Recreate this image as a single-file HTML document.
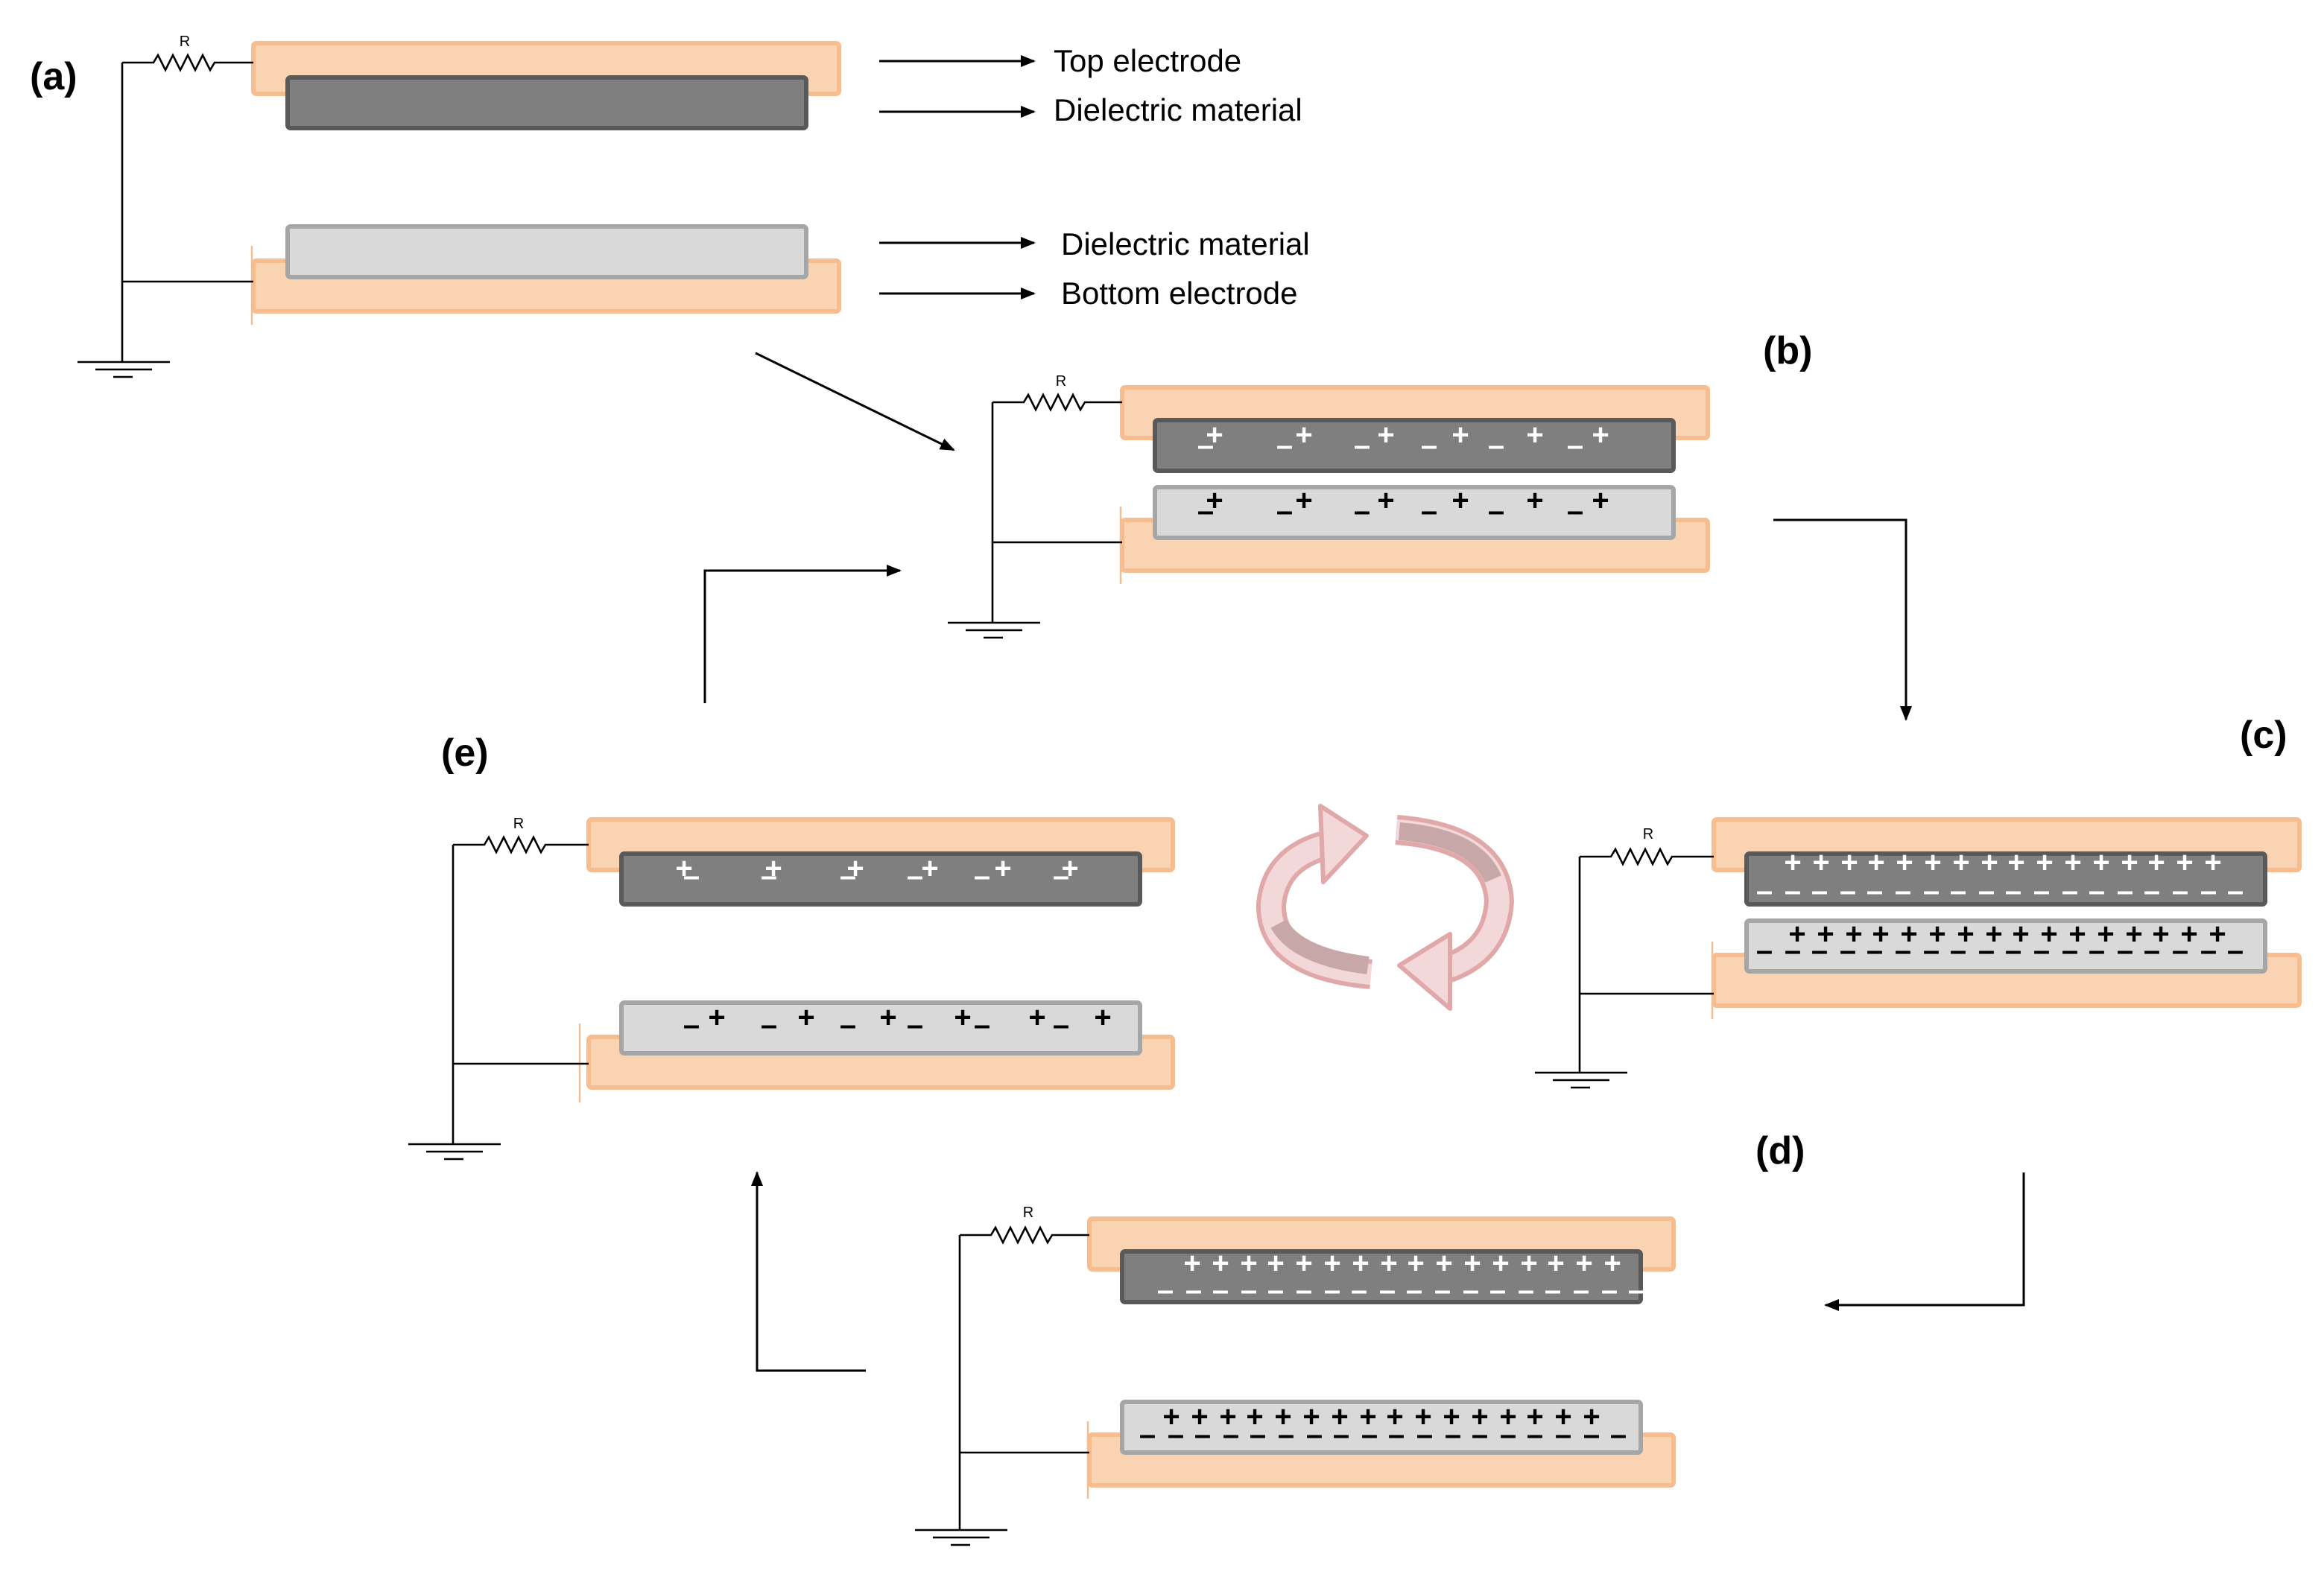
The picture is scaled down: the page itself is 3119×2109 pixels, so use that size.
<!DOCTYPE html>
<html><head><meta charset="utf-8"><style>
html,body{margin:0;padding:0;background:#fff;}
svg{display:block;}
</style></head><body>
<svg width="3119" height="2109" viewBox="0 0 1559.5 1054.5" xmlns="http://www.w3.org/2000/svg" font-family="Liberation Sans, sans-serif">
<defs>
<marker id="ah" markerWidth="10" markerHeight="8" refX="9" refY="4" orient="auto" markerUnits="userSpaceOnUse">
<path d="M0,0 L10,4 L0,8 z" fill="#000"/></marker>
</defs>
<rect width="1559.5" height="1054.5" fill="#fff"/>

<g stroke-width="3">
<rect x="170" y="29" width="393" height="34" rx="2" fill="#fad3b3" stroke="#f8bd8f"/>
<rect x="193" y="52" width="348" height="34" rx="2" fill="#7f7f7f" stroke="#595959"/>
<rect x="170" y="175" width="393" height="34" rx="2" fill="#fad3b3" stroke="#f8bd8f"/>
<rect x="193" y="152" width="348" height="34" rx="2" fill="#d9d9d9" stroke="#a6a6a6"/>
<rect x="753" y="260" width="393" height="34" rx="2" fill="#fad3b3" stroke="#f8bd8f"/>
<rect x="775" y="282" width="348" height="34" rx="2" fill="#7f7f7f" stroke="#595959"/>
<rect x="753" y="349" width="393" height="34" rx="2" fill="#fad3b3" stroke="#f8bd8f"/>
<rect x="775" y="327" width="348" height="34" rx="2" fill="#d9d9d9" stroke="#a6a6a6"/>
<rect x="1150" y="550" width="393" height="34" rx="2" fill="#fad3b3" stroke="#f8bd8f"/>
<rect x="1172" y="573" width="348" height="34" rx="2" fill="#7f7f7f" stroke="#595959"/>
<rect x="1150" y="641" width="393" height="34" rx="2" fill="#fad3b3" stroke="#f8bd8f"/>
<rect x="1172" y="618" width="348" height="34" rx="2" fill="#d9d9d9" stroke="#a6a6a6"/>
<rect x="731" y="818" width="392" height="34" rx="2" fill="#fad3b3" stroke="#f8bd8f"/>
<rect x="753" y="840" width="348" height="34" rx="2" fill="#7f7f7f" stroke="#595959"/>
<rect x="731" y="963" width="392" height="34" rx="2" fill="#fad3b3" stroke="#f8bd8f"/>
<rect x="753" y="941" width="348" height="34" rx="2" fill="#d9d9d9" stroke="#a6a6a6"/>
<rect x="395" y="550" width="392" height="34" rx="2" fill="#fad3b3" stroke="#f8bd8f"/>
<rect x="417" y="573" width="348" height="34" rx="2" fill="#7f7f7f" stroke="#595959"/>
<rect x="395" y="696" width="392" height="34" rx="2" fill="#fad3b3" stroke="#f8bd8f"/>
<rect x="417" y="673" width="348" height="34" rx="2" fill="#d9d9d9" stroke="#a6a6a6"/>
</g>

<g stroke="#f8bd8f" stroke-width="1.2">
<line x1="169" y1="165" x2="169" y2="218"/>
<line x1="752" y1="340" x2="752" y2="392"/>
<line x1="1149" y1="632" x2="1149" y2="684"/>
<line x1="730" y1="954" x2="730" y2="1006"/>
<line x1="389" y1="687" x2="389" y2="740"/>
</g>

<g stroke="#000" stroke-width="1.3" fill="none">
<path d="M82,42 H103 l3,-5 l5,10 l5,-10 l5,10 l5,-10 l5,10 l5,-10 l5,10 l3,-5 H170"/>
<path d="M82,42 V243 M82,189 H170 M52,243 H114 M64,248 H102 M76,253 H89"/>
<path d="M666,270 H687 l3,-5 l5,10 l5,-10 l5,10 l5,-10 l5,10 l5,-10 l5,10 l3,-5 H753"/>
<path d="M666,270 V418 M666,364 H753 M636,418 H698 M648,423 H686 M660,428 H673"/>
<path d="M1060,575 H1081 l3,-5 l5,10 l5,-10 l5,10 l5,-10 l5,10 l5,-10 l5,10 l3,-5 H1150"/>
<path d="M1060,575 V720 M1060,667 H1150 M1030,720 H1092 M1042,725 H1080 M1054,730 H1067"/>
<path d="M644,829 H665 l3,-5 l5,10 l5,-10 l5,10 l5,-10 l5,10 l5,-10 l5,10 l3,-5 H731"/>
<path d="M644,829 V1027 M644,975 H731 M614,1027 H676 M626,1032 H664 M638,1037 H651"/>
<path d="M304,567 H325 l3,-5 l5,10 l5,-10 l5,10 l5,-10 l5,10 l5,-10 l5,10 l3,-5 H395"/>
<path d="M304,567 V768 M304,714 H395 M274,768 H336 M286,773 H324 M298,778 H311"/>
</g>
<g font-size="10" fill="#000" text-anchor="middle">
<text x="124" y="31">R</text>
<text x="712" y="259">R</text>
<text x="1106" y="563">R</text>
<text x="690" y="817">R</text>
<text x="348" y="556">R</text>
</g>

<g stroke="#000" stroke-width="1.5" fill="none" marker-end="url(#ah)">
<line x1="590" y1="41" x2="694" y2="41"/>
<line x1="590" y1="75" x2="694" y2="75"/>
<line x1="590" y1="163" x2="694" y2="163"/>
<line x1="590" y1="197" x2="694" y2="197"/>
<line x1="507" y1="237" x2="640" y2="302"/>
<polyline points="1190,349 1279,349 1279,483"/>
<polyline points="1358,787 1358,876 1225,876"/>
<polyline points="581,920 508,920 508,787"/>
<polyline points="473,472 473,383 604,383"/>
</g>

<g font-size="21" fill="#000">
<text x="707" y="48">Top electrode</text>
<text x="707" y="81">Dielectric material</text>
<text x="712" y="171">Dielectric material</text>
<text x="712" y="204">Bottom electrode</text>
</g>
<g font-size="26" font-weight="bold" fill="#000">
<text x="20" y="60">(a)</text>
<text x="1183" y="244">(b)</text>
<text x="1503" y="502">(c)</text>
<text x="1178" y="781">(d)</text>
<text x="296" y="514">(e)</text>
</g>

<g font-size="20" font-weight="bold" text-anchor="middle" dominant-baseline="central">
<text fill="#fff" x="815 875 930 980 1030 1074" y="292">++++++</text>
<text fill="#fff" x="809 862 914 959 1004 1057" y="299">––––––</text>
<text fill="#000" x="815 875 930 980 1030 1074" y="336">++++++</text>
<text fill="#000" x="809 862 914 959 1004 1057" y="343">––––––</text>
<text fill="#fff" x="459 519 574 624 673 718" y="583">++++++</text>
<text fill="#fff" x="464 516 569 614 659 712" y="588">––––––</text>
<text fill="#000" x="481 541 596 646 696 740" y="683">++++++</text>
<text fill="#000" x="464 516 569 614 659 712" y="688">––––––</text>
<text fill="#fff" x="1203 1222 1241 1259 1278 1297 1316 1335 1353 1372 1391 1410 1429 1447 1466 1485" y="579">++++++++++++++++</text>
<text fill="#fff" x="1184 1203 1221 1240 1258 1277 1296 1314 1333 1351 1370 1389 1407 1426 1444 1463 1482 1500" y="598">––––––––––––––––––</text>
<text fill="#000" x="1206 1225 1244 1262 1281 1300 1319 1338 1356 1375 1394 1413 1432 1450 1469 1488" y="627">++++++++++++++++</text>
<text fill="#000" x="1184 1203 1221 1240 1258 1277 1296 1314 1333 1351 1370 1389 1407 1426 1444 1463 1482 1500" y="638">––––––––––––––––––</text>
<text fill="#fff" x="800 819 838 856 875 894 913 932 950 969 988 1007 1026 1044 1063 1082" y="848">++++++++++++++++</text>
<text fill="#fff" x="782 801 819 838 856 875 894 912 931 949 968 987 1005 1024 1042 1061 1080 1098" y="866">––––––––––––––––––</text>
<text fill="#000" x="786 805 824 842 861 880 899 918 936 955 974 993 1012 1030 1049 1068" y="951">++++++++++++++++</text>
<text fill="#000" x="770 789 807 826 844 863 882 900 919 937 956 975 993 1012 1030 1049 1068 1086" y="963">––––––––––––––––––</text>
</g>

<g stroke-linejoin="round">
<path d="M920,654 Q852,648 853,607 Q856,574 895,566" fill="none" stroke="#e0a8a8" stroke-width="20"/>
<path d="M920,654 Q852,648 853,607 Q856,574 895,566" fill="none" stroke="#f2d8d8" stroke-width="14"/>
<path d="M918,648 Q870,642 858,620" fill="none" stroke="#c8a7a9" stroke-width="12"/>
<polygon points="886,541 917,561 888,592" fill="#f2d8d8" stroke="#e0a8a8" stroke-width="3"/>
<path d="M937,557 Q1004,562 1006,605 Q1004,640 968,651" fill="none" stroke="#e0a8a8" stroke-width="20"/>
<path d="M937,557 Q1004,562 1006,605 Q1004,640 968,651" fill="none" stroke="#f2d8d8" stroke-width="14"/>
<path d="M939,558 Q990,562 1002,590" fill="none" stroke="#c8a7a9" stroke-width="12"/>
<polygon points="973,627 939,648 973,677" fill="#f2d8d8" stroke="#e0a8a8" stroke-width="3"/>
</g>
</svg>
</body></html>
